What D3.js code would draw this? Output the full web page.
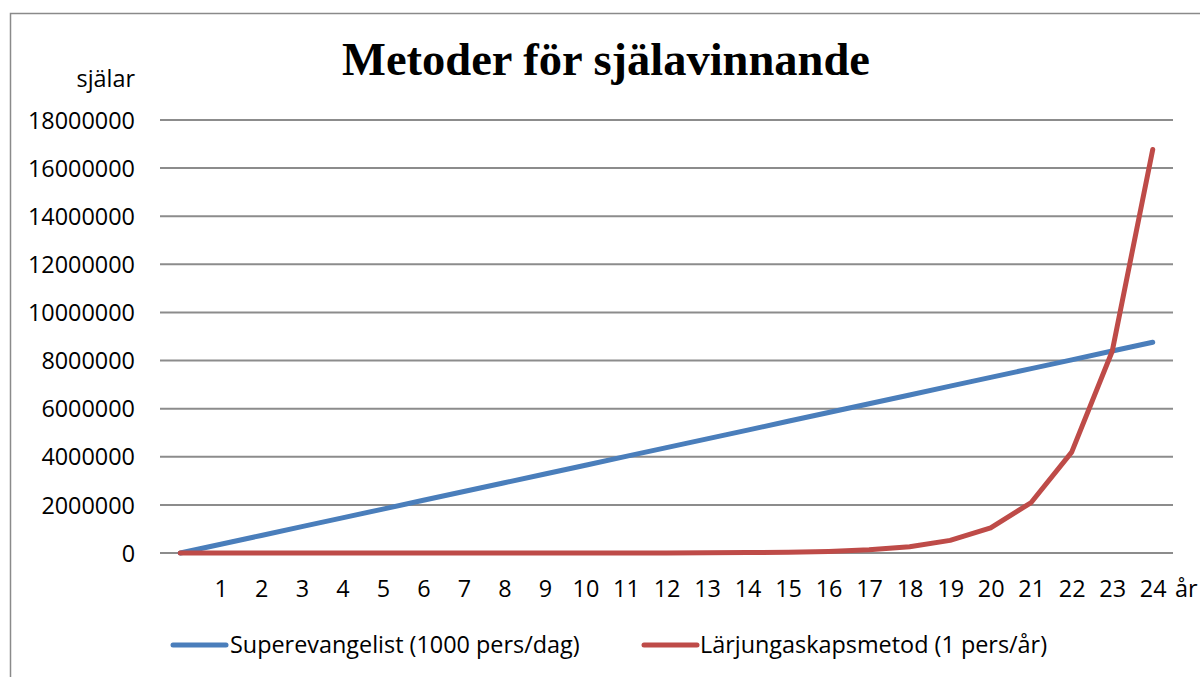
<!DOCTYPE html>
<html><head><meta charset="utf-8">
<script src="https://cdn.jsdelivr.net/npm/d3@7"></script>
<style>body{margin:0;background:#fff}svg{display:block}</style>
</head><body>
<script>
const years = [0,1,2,3,4,5,6,7,8,9,10,11,12,13,14,15,16,17,18,19,20,21,22,23,24];
const superevangelist = [0,365000,730000,1095000,1460000,1825000,2190000,2555000,2920000,3285000,3650000,4015000,4380000,4745000,5110000,5475000,5840000,6205000,6570000,6935000,7300000,7665000,8030000,8395000,8760000];
const larjungaskap = [1,2,4,8,16,32,64,128,256,512,1024,2048,4096,8192,16384,32768,65536,131072,262144,524288,1048576,2097152,4194304,8388608,16777216];
const xTickLabels = ["1","2","3","4","5","6","7","8","9","10","11","12","13","14","15","16","17","18","19","20","21","22","23","24"];
const yTicks = [0,2000000,4000000,6000000,8000000,10000000,12000000,14000000,16000000,18000000];
const seriesNames = ["Superevangelist (1000 pers/dag)","Lärjungaskapsmetod (1 pers/år)"];
const colors = ["#4A7EBB","#BE4B48"];

const W=1200,H=677;
const svg=d3.select("body").append("svg").attr("width",W).attr("height",H);
svg.append("rect").attr("x",10.5).attr("y",13.5).attr("width",1200).attr("height",700)
  .attr("fill","#fff").attr("stroke","#8a8a8a").attr("stroke-width",1.5);

const x=d3.scaleLinear().domain([-0.5,24.5]).range([160,1173]);
const y=d3.scaleLinear().domain([0,18000000]).range([553,120]);
const font="'Open Sans', Lato, sans-serif";
const fs=23.4;

svg.append("g").selectAll("line").data(yTicks).join("line")
  .attr("x1",160).attr("x2",1173).attr("y1",d=>y(d)).attr("y2",d=>y(d))
  .attr("stroke","#8c8c8c").attr("stroke-width",2);

const yAxis=d3.axisLeft(y).tickValues(yTicks).tickFormat(d=>String(d)).tickSize(0).tickPadding(0);
const gy=svg.append("g").attr("transform","translate(135,0)").call(yAxis);
gy.select(".domain").remove();
gy.selectAll("text").attr("font-family",font).attr("font-size",fs).attr("fill","#000").attr("dy","0.35em");

const xAxis=d3.axisBottom(x).tickValues(d3.range(1,25)).tickFormat((d,i)=>xTickLabels[i]).tickSize(0).tickPadding(0);
const gx=svg.append("g").attr("transform","translate(0,597)").call(xAxis);
gx.select(".domain").remove();
gx.selectAll("text").attr("font-family",font).attr("font-size",fs).attr("fill","#000").attr("dy","0");

svg.append("text").attr("x",1175).attr("y",597).attr("font-family",font).attr("font-size",fs).text("år");
svg.append("text").attr("x",135).attr("y",87).attr("text-anchor","end").attr("font-family",font).attr("font-size",fs).text("själar");

svg.append("text").attr("x",606).attr("y",75).attr("text-anchor","middle")
  .attr("font-family","'Liberation Serif','Times New Roman',serif").attr("font-weight","bold").attr("font-size",46.5)
  .text("Metoder för själavinnande");

const line=d3.line().x((d,i)=>x(years[i])).y(d=>y(d));
[superevangelist,larjungaskap].forEach((s,k)=>{
  svg.append("path").datum(s).attr("d",line).attr("fill","none")
    .attr("stroke",colors[k]).attr("stroke-width",5).attr("stroke-linecap","round").attr("stroke-linejoin","round");
});

const leg=[{x1:173,x2:226,tx:230},{x1:644,x2:697,tx:700}];
leg.forEach((l,k)=>{
  svg.append("line").attr("x1",l.x1).attr("x2",l.x2).attr("y1",645).attr("y2",645)
    .attr("stroke",colors[k]).attr("stroke-width",5).attr("stroke-linecap","round");
  svg.append("text").attr("x",l.tx).attr("y",653).attr("font-family",font).attr("font-size",fs).text(seriesNames[k]);
});
</script>
</body></html>
